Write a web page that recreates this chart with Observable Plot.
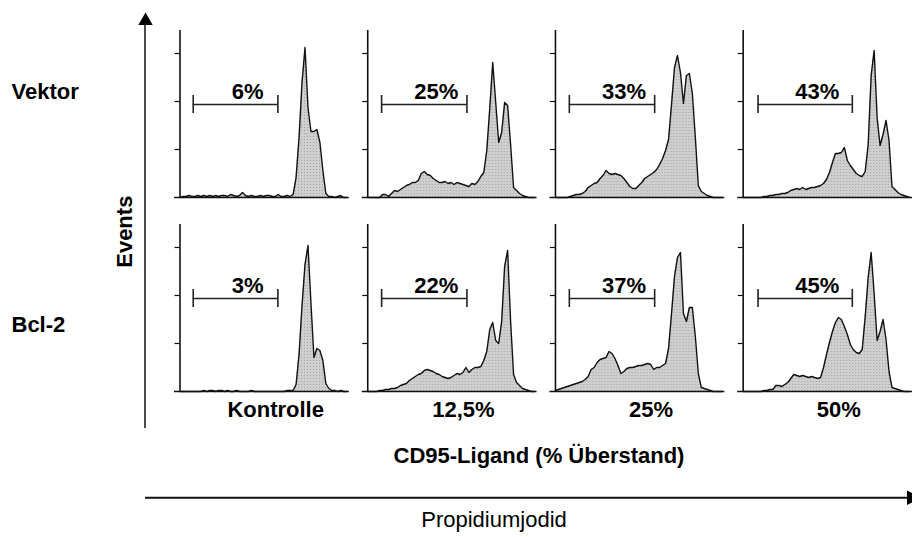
<!DOCTYPE html>
<html>
<head>
<meta charset="utf-8">
<script src="https://cdn.jsdelivr.net/npm/d3@7"></script>
<script src="https://cdn.jsdelivr.net/npm/@observablehq/plot@0.6"></script>
<style>
  html, body { margin: 0; padding: 0; background: #fff; overflow: hidden; }
  #chart { position: relative; width: 912px; height: 537px; }
</style>
</head>
<body>
<div id="chart"></div>
<script>
// PI fluorescence channels (linear 1024-channel scale), one bin every 18 channels
const channels = [0,18,36,54,72,90,108,126,144,162,180,198,216,234,252,270,288,306,324,342,
  360,378,396,414,432,450,468,486,504,522,540,558,576,594,612,630,648,666,684,702,
  720,738,756,774,792,810,828,846,864,882,900,918,936,954,972,990,1008];

// Treatment columns and cell lines
const treatments = ["Kontrolle", "12,5%", "25%", "50%"];
const cellLines = ["Vektor", "Bcl-2"];

// Event counts per channel bin
const vektorKontrolle = [0,1,1,2,1,1,2,1,2,1, 2,1,2,1,2,2,1,3,2,1, 2,5,2,1,2,1,1,2,1,2, 2,1,1,3,1,1,2,1,3,20, 60,115,150,90,66,66,68,55,27,4, 1,1,0,1,2,0,0];
const vektor12 = [0,0,0,0,0,3,3,1,4,7, 6,8,10,12,13,15,15,17,24,26, 23,22,19,17,15,15,16,14,15,13, 15,14,13,12,11,14,13,16,21,25, 47,89,135,95,55,65,95,92,53,10, 7,4,2,1,0,0,0];
const vektor25 = [0,0,0,0,0,1,2,3,3,4, 6,10,12,14,15,19,22,27,24,23, 24,23,22,19,15,11,9,9,12,15, 19,21,23,25,28,33,39,47,58,93, 130,142,125,94,122,124,104,60,12,6, 4,2,1,0,0,0,0];
const vektor50 = [0,0,0,0,0,0,0,1,1,2, 2,3,3,4,4,5,7,8,9,8, 10,8,9,10,10,11,12,14,18,25, 35,44,44,45,50,37,32,28,24,22, 21,26,53,122,147,80,52,63,77,57, 11,8,5,3,2,1,0];
const bcl2Kontrolle = [0,0,0,0,0,0,0,0,1,0, 1,1,0,1,1,0,1,0,0,1, 0,0,0,0,1,0,0,0,0,0, 0,0,0,0,0,0,1,1,1,7, 37,86,127,146,88,34,43,41,31,8, 3,1,1,0,1,0,0];
const bcl2_12 = [0,0,0,0,1,1,2,2,3,3, 4,6,7,8,11,13,15,17,18,21, 22,21,20,18,17,15,14,13,14,16, 18,17,19,24,19,22,24,24,25,31, 40,62,69,51,48,70,125,141,70,17, 9,6,3,2,1,0,0];
const bcl2_25 = [1,2,3,4,5,6,7,8,9,10, 12,15,22,24,29,32,33,34,40,38, 33,26,18,20,23,24,24,25,26,26, 27,28,27,22,24,24,26,28,43,78, 115,134,139,78,70,84,84,55,18,4, 3,2,1,0,0,0,0];
const bcl2_50 = [0,0,0,0,0,0,0,1,1,2, 2,6,6,5,7,9,13,17,16,15, 16,15,14,15,14,13,14,24,37,49, 60,69,74,72,65,57,47,42,39,38, 42,75,114,139,98,51,60,72,52,20, 4,3,2,1,0,0,0];

// Sub-G1 gate per treatment (channels) and the fraction of events inside it
const gateLow = [80, 84, 84, 90];
const gateHigh = [592, 600, 600, 660];
const subG1Vektor = [6, 25, 33, 43];
const subG1Bcl2 = [3, 22, 37, 45];

// Events axis ticks
const yTicks = [48, 96, 144];

const histograms = {
  "Vektor": [vektorKontrolle, vektor12, vektor25, vektor50],
  "Bcl-2": [bcl2Kontrolle, bcl2_12, bcl2_25, bcl2_50]
};
const subG1 = {"Vektor": subG1Vektor, "Bcl-2": subG1Bcl2};

const hist = cellLines.flatMap(row => treatments.flatMap((col, j) =>
  channels.map((channel, i) => ({row, col, channel, count: histograms[row][j][i]}))));
const gates = cellLines.flatMap(row => treatments.map((col, j) =>
  ({row, col, lo: gateLow[j], hi: gateHigh[j], pct: subG1[row][j]})));

const FONT = "'Liberation Sans', Arial, Helvetica, sans-serif";
const ink = "#111";
const gateLevel = 93;
const capHalf = 9;
const facetKeys = {fx: "col", fy: "row"};

const svg = Plot.plot({
  width: 912,
  height: 537,
  marginTop: 30,
  marginBottom: 146,
  marginLeft: 179.5,
  marginRight: -5.8,
  style: {fontFamily: FONT, background: "white", overflow: "hidden"},
  x: {domain: [0, 1024], axis: null},
  y: {domain: [0, 167], axis: null},
  fx: {domain: treatments, paddingInner: 0.098, paddingOuter: 0, round: false, axis: null},
  fy: {domain: cellLines, paddingInner: 0.139, paddingOuter: 0, round: false, axis: null},
  facet: {marginTop: 0, marginRight: 0, marginBottom: 0, marginLeft: 0},
  marks: [
    Plot.areaY(hist, {x: "channel", y: "count", ...facetKeys, fill: "url(#stipple)"}),
    Plot.lineY(hist, {x: "channel", y: "count", ...facetKeys, stroke: ink, strokeWidth: 1.4}),
    // axes of each histogram
    Plot.ruleY([0], {insetLeft: -5.5, stroke: ink, strokeWidth: 1.6}),
    Plot.ruleX([0], {stroke: ink, strokeWidth: 1.6}),
    Plot.ruleY(yTicks, {x1: 0, x2: 0, insetLeft: -5, stroke: ink, strokeWidth: 1.2}),
    // sub-G1 gate markers
    Plot.ruleY(gates, {...facetKeys, y: gateLevel, x1: "lo", x2: "hi", stroke: "#222", strokeWidth: 1.6}),
    Plot.ruleX(gates, {...facetKeys, x: "lo", y1: gateLevel - capHalf, y2: gateLevel + capHalf, stroke: "#222", strokeWidth: 1.6}),
    Plot.ruleX(gates, {...facetKeys, x: "hi", y1: gateLevel - capHalf, y2: gateLevel + capHalf, stroke: "#222", strokeWidth: 1.6}),
    Plot.text(gates, {...facetKeys, x: d => (d.lo + d.hi) / 2, y: 106, dx: 12,
      text: d => d.pct + "%", fontSize: 22, fontWeight: "bold", fill: "#000"}),
    // treatment labels under the lower row
    Plot.text(treatments, {fx: d => d, fy: () => "Bcl-2", text: d => d, frameAnchor: "bottom",
      dy: 25, dx: 11, fontSize: 22, fontWeight: "bold", fill: "#000"})
  ]
});

// stippled grey fill of the histograms
const defs = d3.select(svg).insert("defs", ":first-child");
const pattern = defs.append("pattern").attr("id", "stipple")
  .attr("width", 3).attr("height", 3).attr("patternUnits", "userSpaceOnUse");
pattern.append("rect").attr("width", 3).attr("height", 3).attr("fill", "#cfcfcf");
pattern.append("rect").attr("x", 1).attr("y", 1).attr("width", 1).attr("height", 1).attr("fill", "#a2a2a2");

// outer annotations: row labels, axis titles and axis arrows
const g = d3.select(svg).append("g").attr("font-family", FONT).attr("fill", "#000")
  .attr("text-anchor", "start");
g.append("text").attr("x", 11.5).attr("y", 99.3).attr("font-size", 22).attr("font-weight", "bold").text("Vektor");
g.append("text").attr("x", 11.5).attr("y", 331.7).attr("font-size", 22).attr("font-weight", "bold").text("Bcl-2");
g.append("text").attr("transform", "translate(131.5,231.7) rotate(-90)").attr("text-anchor", "middle")
  .attr("font-size", 22).attr("font-weight", "bold").text("Events");
g.append("text").attr("x", 539).attr("y", 463.3).attr("text-anchor", "middle")
  .attr("font-size", 22).attr("font-weight", "bold").text("CD95-Ligand (% Überstand)");
g.append("text").attr("x", 494).attr("y", 527).attr("text-anchor", "middle")
  .attr("font-size", 22).text("Propidiumjodid");

g.append("line").attr("x1", 145).attr("x2", 145).attr("y1", 24).attr("y2", 428)
  .attr("stroke", ink).attr("stroke-width", 1.5);
g.append("polygon").attr("points", "138.3,25 152.7,25 145.5,12.5");
g.append("line").attr("x1", 145).attr("x2", 909).attr("y1", 497.7).attr("y2", 497.7)
  .attr("stroke", ink).attr("stroke-width", 2);
g.append("polygon").attr("points", "907,490.5 907,505 921,497.7");

document.getElementById("chart").append(svg);
</script>
</body>
</html>
